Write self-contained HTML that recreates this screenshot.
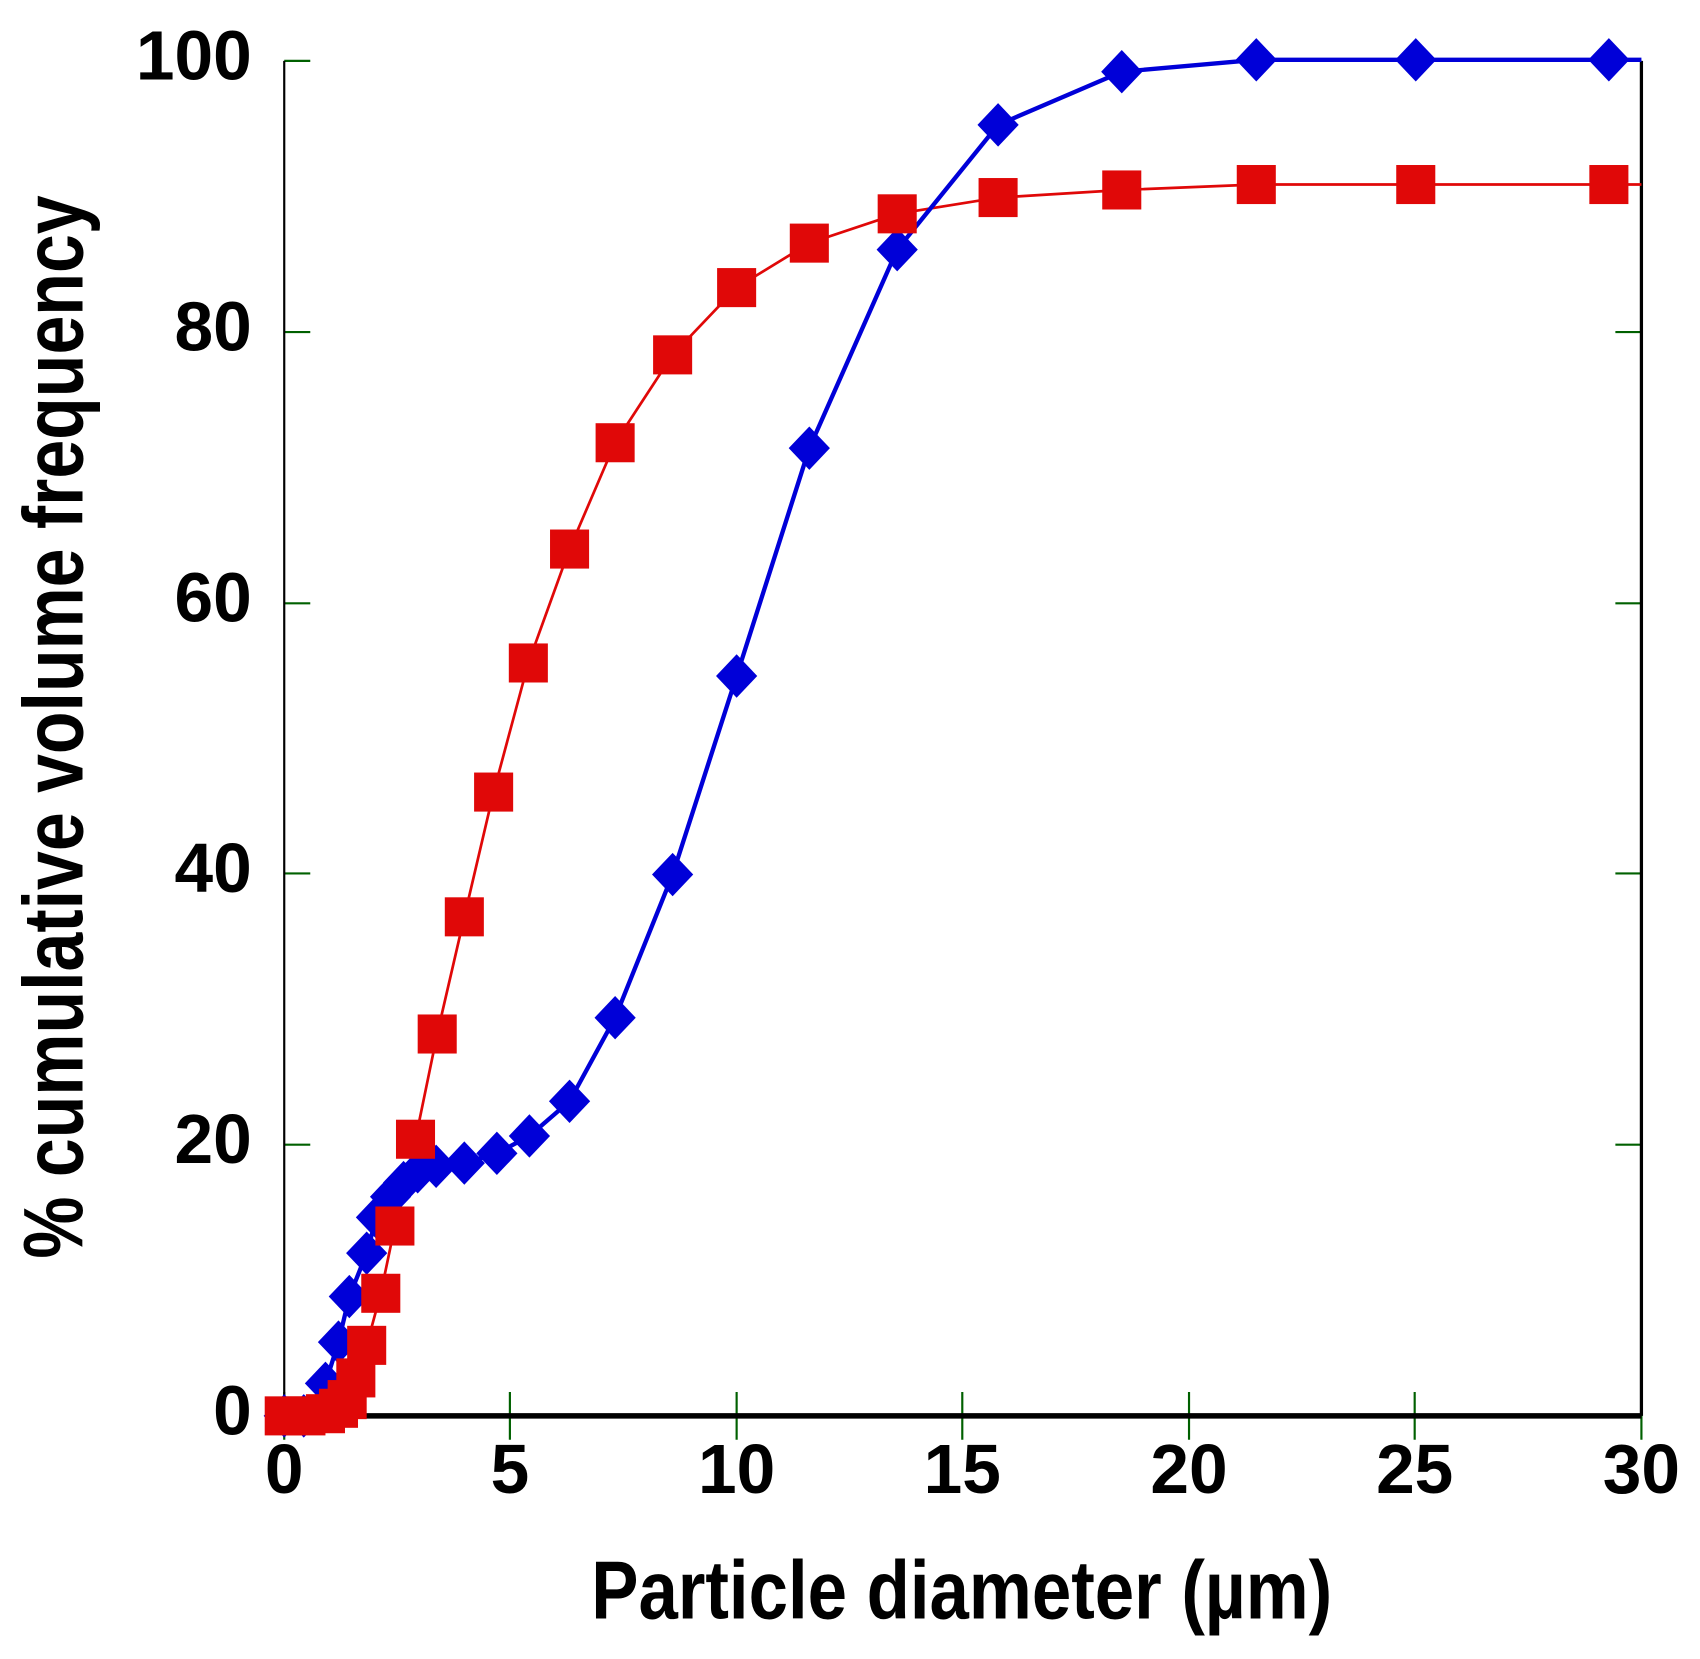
<!DOCTYPE html>
<html><head><meta charset="utf-8"><style>html,body{margin:0;padding:0;background:#fff}svg{display:block}</style></head>
<body>
<svg width="1700" height="1659" viewBox="0 0 1567 1529" xmlns="http://www.w3.org/2000/svg" font-family="Liberation Sans, sans-serif" font-weight="bold">
<rect width="1567" height="1529" fill="#fff"/>
<g stroke="#006000" stroke-width="2">
<line x1="262" y1="56" x2="286" y2="56"/><line x1="262" y1="306" x2="286" y2="306"/><line x1="262" y1="556" x2="286" y2="556"/><line x1="262" y1="805" x2="286" y2="805"/><line x1="262" y1="1055" x2="286" y2="1055"/>
<line x1="1489" y1="56" x2="1513" y2="56"/><line x1="1489" y1="306" x2="1513" y2="306"/><line x1="1489" y1="556" x2="1513" y2="556"/><line x1="1489" y1="805" x2="1513" y2="805"/><line x1="1489" y1="1055" x2="1513" y2="1055"/>
<line x1="470" y1="1283" x2="470" y2="1327"/><line x1="679" y1="1283" x2="679" y2="1327"/><line x1="887" y1="1283" x2="887" y2="1327"/><line x1="1096" y1="1283" x2="1096" y2="1327"/><line x1="1304" y1="1283" x2="1304" y2="1327"/><line x1="1513" y1="1283" x2="1513" y2="1327"/><line x1="262" y1="1283" x2="262" y2="1327"/>
</g>
<line x1="262" y1="56" x2="262" y2="1305" stroke="#000" stroke-width="2"/>
<line x1="1513" y1="56" x2="1513" y2="1305" stroke="#000" stroke-width="3"/>
<line x1="262" y1="1305" x2="1513" y2="1305" stroke="#000" stroke-width="5"/>
<g font-size="64" text-anchor="end" fill="#000">
<text x="232" y="73">100</text><text x="232" y="323">80</text><text x="232" y="573">60</text><text x="232" y="822">40</text><text x="232" y="1072">20</text><text x="232" y="1322">0</text>
</g>
<g font-size="64" text-anchor="middle" fill="#000">
<text x="262" y="1376">0</text><text x="470" y="1376">5</text><text x="679" y="1376">10</text><text x="887" y="1376">15</text><text x="1096" y="1376">20</text><text x="1304" y="1376">25</text><text x="1513" y="1376">30</text>
</g>
<text x="545" y="1492" font-size="76" textLength="683" lengthAdjust="spacingAndGlyphs" fill="#000">Particle diameter (µm)</text>
<text transform="translate(76,1160) rotate(-90)" font-size="78" textLength="980" lengthAdjust="spacingAndGlyphs" fill="#000">% cumulative volume frequency</text>
<polyline fill="none" stroke="#e00808" stroke-width="2.5" points="262,1305 282,1305 300,1303 312,1298 320,1290 328,1270 338,1240 351,1192 364,1130 383,1050 403,953 428,845 455,730 487,611 525,506 567,408 620,327 679,265 746,224 827,197 920,182 1034,175 1158,170 1305,170 1513,170"/>
<polyline fill="none" stroke="#0000d8" stroke-width="4" points="262,1305 280,1305 300,1275 312,1237 322,1195 338,1155 347,1122 360,1103 372,1090 385,1080 402,1075 428,1072 458,1063 488,1047 525,1015 567,938 620,806 679,623 746,413 827,230 920,115 1034,66 1158,55 1305,55 1483,55 1513,55"/>
<g fill="#0000d8">
<path id="d" d="M0,-20 L19,0 L0,20 L-19,0Z" transform="translate(262,1305)"/>
<path d="M0,-20 L19,0 L0,20 L-19,0Z" transform="translate(280,1305)"/>
<path d="M0,-20 L19,0 L0,20 L-19,0Z" transform="translate(300,1275)"/>
<path d="M0,-20 L19,0 L0,20 L-19,0Z" transform="translate(312,1237)"/>
<path d="M0,-20 L19,0 L0,20 L-19,0Z" transform="translate(322,1195)"/>
<path d="M0,-20 L19,0 L0,20 L-19,0Z" transform="translate(338,1155)"/>
<path d="M0,-20 L19,0 L0,20 L-19,0Z" transform="translate(347,1122)"/>
<path d="M0,-20 L19,0 L0,20 L-19,0Z" transform="translate(360,1103)"/>
<path d="M0,-20 L19,0 L0,20 L-19,0Z" transform="translate(372,1090)"/>
<path d="M0,-20 L19,0 L0,20 L-19,0Z" transform="translate(385,1080)"/>
<path d="M0,-20 L19,0 L0,20 L-19,0Z" transform="translate(402,1075)"/>
<path d="M0,-20 L19,0 L0,20 L-19,0Z" transform="translate(428,1072)"/>
<path d="M0,-20 L19,0 L0,20 L-19,0Z" transform="translate(458,1063)"/>
<path d="M0,-20 L19,0 L0,20 L-19,0Z" transform="translate(488,1047)"/>
<path d="M0,-20 L19,0 L0,20 L-19,0Z" transform="translate(525,1015)"/>
<path d="M0,-20 L19,0 L0,20 L-19,0Z" transform="translate(567,938)"/>
<path d="M0,-20 L19,0 L0,20 L-19,0Z" transform="translate(620,806)"/>
<path d="M0,-20 L19,0 L0,20 L-19,0Z" transform="translate(679,623)"/>
<path d="M0,-20 L19,0 L0,20 L-19,0Z" transform="translate(746,413)"/>
<path d="M0,-20 L19,0 L0,20 L-19,0Z" transform="translate(827,230)"/>
<path d="M0,-20 L19,0 L0,20 L-19,0Z" transform="translate(920,115)"/>
<path d="M0,-20 L19,0 L0,20 L-19,0Z" transform="translate(1034,66)"/>
<path d="M0,-20 L19,0 L0,20 L-19,0Z" transform="translate(1158,55)"/>
<path d="M0,-20 L19,0 L0,20 L-19,0Z" transform="translate(1305,55)"/>
<path d="M0,-20 L19,0 L0,20 L-19,0Z" transform="translate(1483,55)"/>
</g>
<g fill="#e00808">
<rect x="244" y="1287" width="36" height="36"/>
<rect x="264" y="1287" width="36" height="36"/>
<rect x="282" y="1285" width="36" height="36"/>
<rect x="294" y="1280" width="36" height="36"/>
<rect x="302" y="1272" width="36" height="36"/>
<rect x="310" y="1252" width="36" height="36"/>
<rect x="320" y="1222" width="36" height="36"/>
<rect x="333" y="1174" width="36" height="36"/>
<rect x="346" y="1112" width="36" height="36"/>
<rect x="365" y="1032" width="36" height="36"/>
<rect x="385" y="935" width="36" height="36"/>
<rect x="410" y="827" width="36" height="36"/>
<rect x="437" y="712" width="36" height="36"/>
<rect x="469" y="593" width="36" height="36"/>
<rect x="507" y="488" width="36" height="36"/>
<rect x="549" y="390" width="36" height="36"/>
<rect x="602" y="309" width="36" height="36"/>
<rect x="661" y="247" width="36" height="36"/>
<rect x="728" y="206" width="36" height="36"/>
<rect x="809" y="179" width="36" height="36"/>
<rect x="902" y="164" width="36" height="36"/>
<rect x="1016" y="157" width="36" height="36"/>
<rect x="1140" y="152" width="36" height="36"/>
<rect x="1287" y="152" width="36" height="36"/>
<rect x="1465" y="152" width="36" height="36"/>
</g>
</svg>
</body></html>
